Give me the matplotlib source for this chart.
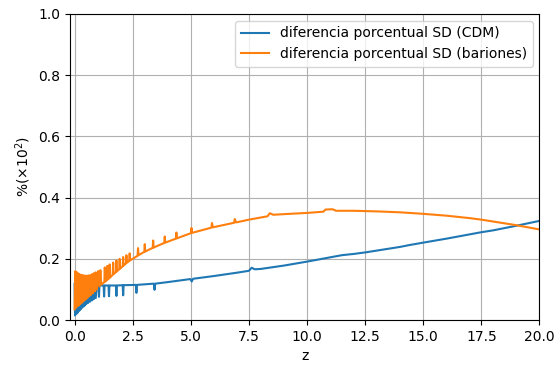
import numpy as np
import matplotlib.pyplot as plt

# Diferencia porcentual de la SD en funcion de z, pares (z, valor)
# CDM: tramo ruidoso a bajo z (oscila entre dos niveles)
cdm_ruido = [
    (0.00, 0.118), (0.02, 0.015), (0.05, 0.117), (0.08, 0.020), (0.11, 0.117),
    (0.14, 0.025), (0.17, 0.116), (0.20, 0.030), (0.23, 0.116), (0.26, 0.035),
    (0.29, 0.115), (0.32, 0.040), (0.35, 0.115), (0.38, 0.044), (0.41, 0.115),
    (0.44, 0.048), (0.47, 0.114), (0.50, 0.052), (0.54, 0.114), (0.58, 0.056),
    (0.62, 0.114), (0.66, 0.060), (0.70, 0.113), (0.74, 0.064), (0.78, 0.113),
    (0.82, 0.068), (0.86, 0.113), (0.91, 0.072), (0.96, 0.113),
]
# CDM: picos aislados
cdm_picos = [
    (1.03, 0.113), (1.05, 0.076), (1.07, 0.113),
    (1.25, 0.113), (1.27, 0.077), (1.29, 0.113),
    (1.46, 0.113), (1.48, 0.078), (1.50, 0.113),
    (1.78, 0.113), (1.80, 0.079), (1.82, 0.113),
    (2.07, 0.114), (2.09, 0.081), (2.11, 0.114),
    (2.64, 0.115), (2.66, 0.089), (2.68, 0.115),
    (3.41, 0.119), (3.44, 0.099), (3.47, 0.119),
]
# CDM: tramo suave
cdm_suave = [
    (4.00, 0.124), (4.98, 0.134), (5.04, 0.126), (5.10, 0.135), (6.00, 0.144),
    (7.00, 0.155), (7.50, 0.161), (7.62, 0.171), (7.75, 0.166), (8.00, 0.167),
    (9.00, 0.178), (10.0, 0.191), (11.0, 0.205), (11.5, 0.212), (12.0, 0.216),
    (12.5, 0.221), (13.0, 0.227), (14.0, 0.239), (14.4, 0.245), (15.0, 0.253),
    (16.0, 0.266), (17.0, 0.280), (17.5, 0.287), (18.0, 0.293), (19.0, 0.308),
    (20.0, 0.324),
]

# Bariones
bar_ruido = [
    (0.00, 0.035), (0.03, 0.160), (0.06, 0.040), (0.09, 0.157), (0.12, 0.045),
    (0.15, 0.153), (0.18, 0.048), (0.21, 0.150), (0.24, 0.052), (0.27, 0.148),
    (0.30, 0.056), (0.33, 0.147), (0.36, 0.060), (0.39, 0.146), (0.42, 0.064),
    (0.45, 0.145), (0.48, 0.068), (0.51, 0.145), (0.55, 0.072), (0.59, 0.146),
    (0.63, 0.078), (0.67, 0.147), (0.71, 0.083), (0.75, 0.150), (0.79, 0.088),
    (0.83, 0.153), (0.87, 0.094), (0.91, 0.156), (0.96, 0.100), (1.01, 0.160),
    (1.07, 0.110), (1.11, 0.163), (1.15, 0.116),
]
bar_picos = [
    (1.28, 0.124), (1.30, 0.172), (1.32, 0.126),
    (1.39, 0.131), (1.41, 0.177), (1.43, 0.133),
    (1.49, 0.137), (1.51, 0.182), (1.53, 0.139),
    (1.64, 0.148), (1.66, 0.188), (1.68, 0.150),
    (1.78, 0.157), (1.80, 0.195), (1.82, 0.159),
    (1.92, 0.166), (1.94, 0.200), (1.96, 0.168),
    (2.07, 0.176), (2.09, 0.206), (2.11, 0.178),
    (2.21, 0.185), (2.23, 0.212), (2.25, 0.187),
    (2.35, 0.193), (2.37, 0.218), (2.39, 0.195),
    (2.71, 0.210), (2.73, 0.235), (2.75, 0.212),
    (3.00, 0.223), (3.02, 0.248), (3.04, 0.224),
    (3.36, 0.236), (3.38, 0.260), (3.40, 0.237),
    (3.86, 0.252), (3.88, 0.273), (3.90, 0.253),
    (4.36, 0.266), (4.38, 0.286), (4.40, 0.267),
    (5.01, 0.284), (5.03, 0.301), (5.06, 0.285),
    (5.89, 0.302), (5.91, 0.317), (5.95, 0.303),
    (6.87, 0.318), (6.89, 0.330), (6.95, 0.319),
]
bar_suave = [
    (7.50, 0.328), (8.30, 0.339), (8.40, 0.349), (8.55, 0.344), (9.00, 0.346),
    (10.0, 0.350), (10.7, 0.354), (10.8, 0.361), (11.1, 0.362), (11.25, 0.357),
    (12.0, 0.357), (13.0, 0.355), (14.0, 0.352), (15.0, 0.347), (16.0, 0.341),
    (17.0, 0.333), (17.5, 0.328), (18.0, 0.322), (19.0, 0.310), (20.0, 0.296),
]

z_cdm, sd_cdm = np.array(cdm_ruido + cdm_picos + cdm_suave).T
z_bar, sd_bar = np.array(bar_ruido + bar_picos + bar_suave).T

fig, ax = plt.subplots(figsize=(5.55, 3.65), dpi=100)
fig.subplots_adjust(left=0.126, right=0.972, top=0.962, bottom=0.123)

ax.plot(z_cdm, sd_cdm, label='diferencia porcentual SD (CDM)')
ax.plot(z_bar, sd_bar, label='diferencia porcentual SD (bariones)')

ax.set_xlim(-0.2, 20)
ax.set_ylim(0, 1)
ax.set_xticks(np.arange(0, 20.1, 2.5))
ax.set_xlabel('z')
ax.set_ylabel(r'%($\times10^2$)')
ax.grid(True)
ax.legend(loc='upper right')

plt.savefig('out.png')
